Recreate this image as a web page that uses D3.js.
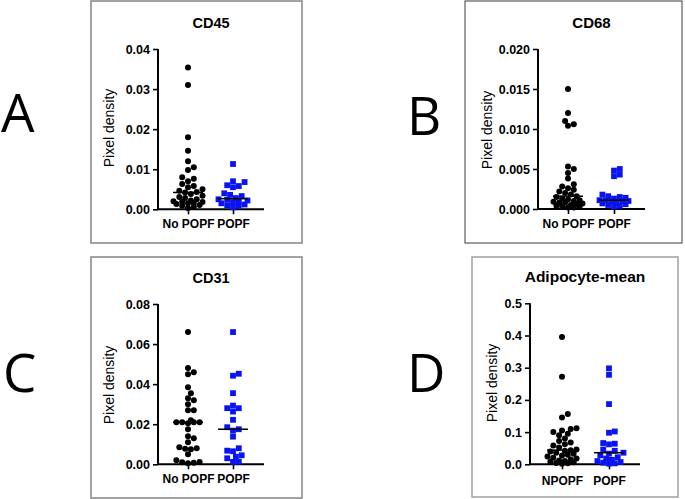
<!DOCTYPE html>
<html><head><meta charset="utf-8">
<script src="https://cdn.jsdelivr.net/npm/d3@7"></script>
<style>html,body{margin:0;padding:0;background:#fff}svg{display:block}</style>
</head><body>
<svg id="c" width="685" height="499"></svg>
<script>
// ---- data ----
const panelLetters = ["A", "B", "C", "D"];
const titles = ["CD45", "CD68", "CD31", "Adipocyte-mean"];
const categoriesA = ["No POPF", "POPF"];
const categoriesB = ["No POPF", "POPF"];
const categoriesC = ["No POPF", "POPF"];
const categoriesD = ["NPOPF", "POPF"];
const yTicksA = [0, 0.01, 0.02, 0.03, 0.04];
const yTicksB = [0, 0.005, 0.010, 0.015, 0.020];
const yTicksC = [0, 0.02, 0.04, 0.06, 0.08];
const yTicksD = [0, 0.1, 0.2, 0.3, 0.4, 0.5];
const cd45NoPopf = [0.0354,0.0310,0.0180,0.0146,0.0120,0.0105,0.0098,0.0080,0.0076,0.0070,0.0063,0.0058,0.0055,0.0050,0.0046,0.0043,0.0042,0.0038,0.0034,0.0031,0.0028,0.0025,0.0022,0.0020,0.0019,0.0018,0.0016,0.0015,0.0013,0.0011,0.0009,0.0006,0.0003];
const cd45Popf = [0.0113,0.0070,0.0068,0.0060,0.0058,0.0055,0.0040,0.0036,0.0033,0.0028,0.0025,0.0024,0.0022,0.0020,0.0018,0.0015,0.0012,0.0010,0.0008,0.0005];
const cd68NoPopf = [0.0150,0.0120,0.0110,0.0106,0.0104,0.0053,0.0050,0.0045,0.0038,0.0031,0.0028,0.0026,0.0024,0.0022,0.0020,0.0018,0.0016,0.0015,0.0013,0.0012,0.0011,0.0010,0.0009,0.0008,0.0008,0.0007,0.0006,0.0005,0.0004,0.0003,0.0003,0.0002,0.0002];
const cd68Popf = [0.0050,0.0048,0.0043,0.0041,0.0018,0.0016,0.0015,0.0014,0.0013,0.0011,0.0011,0.0010,0.0010,0.0009,0.0008,0.0007,0.0006,0.0005,0.0004,0.0003];
const cd31NoPopf = [0.066,0.048,0.046,0.045,0.0385,0.0355,0.033,0.032,0.030,0.027,0.027,0.022,0.021,0.021,0.021,0.021,0.0205,0.0175,0.014,0.013,0.011,0.0085,0.008,0.0078,0.0075,0.005,0.002,0.0012,0.001,0.0008,0.0005];
const cd31Popf = [0.066,0.0452,0.0442,0.0355,0.0293,0.028,0.028,0.0263,0.0222,0.0185,0.0175,0.0168,0.0138,0.008,0.0068,0.0065,0.0045,0.0038,0.003,0.0013,0.0012];
const adipoNoPopf = [0.395,0.272,0.156,0.145,0.112,0.110,0.105,0.100,0.095,0.090,0.080,0.072,0.068,0.062,0.058,0.052,0.046,0.044,0.042,0.040,0.036,0.033,0.030,0.027,0.024,0.020,0.018,0.015,0.012,0.010,0.008,0.006,0.004,0.003,0.002];
const adipoPopf = [0.298,0.278,0.187,0.102,0.098,0.066,0.064,0.062,0.046,0.042,0.036,0.033,0.028,0.022,0.018,0.014,0.010,0.007,0.005,0.003,0.002];

// ---- layout ----
const panels = [
  {letter:panelLetters[0], title:titles[0], tfs:14.5, cats:categoriesA, ticks:yTicksA, fmt:d3.format(".2f"), series:[cd45NoPopf, cd45Popf],
   frame:[91,1,302,243], frameColor:"#858585", frameW:1.5, lx:1, lb:132,
   ax:158, ay0:209.3, ay1:49, axEnd:264, cx:[188,233], ty:28, ylx:109, yly:128, xly:228},
  {letter:panelLetters[1], title:titles[1], tfs:15, cats:categoriesB, ticks:yTicksB, fmt:d3.format(".3f"), series:[cd68NoPopf, cd68Popf],
   frame:[465,1,682,243], frameColor:"#3a3a3a", frameW:1, lx:407, lb:135,
   ax:538, ay0:209, ay1:49, axEnd:645, cx:[568,614], ty:28, ylx:487, yly:130, xly:228},
  {letter:panelLetters[2], title:titles[2], tfs:14.5, cats:categoriesC, ticks:yTicksC, fmt:d3.format(".2f"), series:[cd31NoPopf, cd31Popf],
   frame:[91,257,302,498], frameColor:"#858585", frameW:1.5, lx:3, lb:392,
   ax:158, ay0:464.3, ay1:304, axEnd:264, cx:[188,233], ty:283, ylx:109, yly:385, xly:483},
  {letter:panelLetters[3], title:titles[3], tfs:15.5, cats:categoriesD, ticks:yTicksD, fmt:d3.format(".1f"), series:[adipoNoPopf, adipoPopf],
   frame:[472,257,678,497], frameColor:"#a0a0a0", frameW:1.5, lx:407, lb:392,
   ax:530, ay0:464.3, ay1:303.3, axEnd:640, cx:[562,609], ty:282, ylx:492, yly:383, xly:485}
];

const svg = d3.select("#c");
const font = "'Liberation Sans', Arial, sans-serif";

function beeswarm(vals, y, diam, maxOff) {
  const sorted = vals.map((v,i)=>({v,i})).sort((a,b)=>a.v-b.v);
  const placed = [];
  sorted.forEach(p => {
    const py = y(p.v);
    let best = null, bestScore = -1;
    const cands = [0];
    for (let k=1; k*diam*0.5<=maxOff; k++) { cands.push(k*diam*0.5, -k*diam*0.5); }
    for (const off of cands) {
      let minD = Infinity;
      for (const q of placed) {
        const d = Math.hypot(q.x-off, q.y-py);
        if (d < minD) minD = d;
      }
      if (minD >= diam*0.95) { best = off; break; }
      if (minD > bestScore) { bestScore = minD; best = off; }
    }
    placed.push({x:best, y:py, v:p.v});
  });
  return placed;
}

panels.forEach(p => {
  const g = svg.append("g");
  const [fx0,fy0,fx1,fy1] = p.frame;
  g.append("rect").attr("x",fx0).attr("y",fy0).attr("width",fx1-fx0).attr("height",fy1-fy0)
    .attr("fill","none").attr("stroke",p.frameColor).attr("stroke-width",p.frameW);
  svg.append("text").attr("x",p.lx).attr("y",p.lb).text(p.letter)
    .attr("font-family","'Open Sans', 'Liberation Sans', sans-serif").attr("font-size",53).attr("fill","#000");

  const y = d3.scaleLinear().domain([0, d3.max(p.ticks)]).range([p.ay0, p.ay1]);
  const x = d3.scaleOrdinal().domain(p.cats).range(p.cx);

  // title
  g.append("text").attr("x", (p.ax+p.axEnd)/2).attr("y", p.ty).attr("text-anchor","middle")
    .attr("font-family",font).attr("font-weight","bold").attr("font-size",p.tfs).text(p.title);

  // y axis
  const yAxis = d3.axisLeft(y).tickValues(p.ticks).tickFormat(p.fmt).tickSize(5).tickPadding(3);
  const ya = g.append("g").attr("transform",`translate(${p.ax},0)`).call(yAxis);
  ya.select(".domain").attr("stroke","#000").attr("stroke-width",2).attr("d",`M0,${p.ay0}V${p.ay1}`);
  ya.selectAll(".tick line").attr("stroke","#000").attr("stroke-width",1.6);
  ya.selectAll(".tick text").attr("font-family",font).attr("font-weight","bold").attr("font-size",12.5).attr("fill","#000");

  // x axis
  const xAxis = d3.axisBottom(x).tickSize(5).tickPadding(4);
  const xa = g.append("g").attr("transform",`translate(0,${p.ay0})`).call(xAxis);
  xa.select(".domain").attr("stroke","#000").attr("stroke-width",2).attr("d",`M${p.ax},0H${p.axEnd}`);
  xa.selectAll(".tick line").attr("stroke","#000").attr("stroke-width",1.6);
  xa.selectAll(".tick text").attr("font-family",font).attr("font-weight","bold").attr("font-size",12).attr("fill","#000")
    .attr("y", p.xly - p.ay0).attr("dy", 0);

  // y label
  g.append("text").attr("transform",`translate(${p.ylx},${p.yly}) rotate(-90)`).attr("text-anchor","middle")
    .attr("dy","0.35em").attr("font-family",font).attr("font-size",14).text("Pixel density");

  // points
  p.series.forEach((vals, si) => {
    const cx = x(p.cats[si]);
    const pts = beeswarm(vals, y, 5.8, 16);
    if (si === 0) {
      g.selectAll(null).data(pts).join("circle").attr("cx",d=>cx+d.x).attr("cy",d=>d.y).attr("r",3).attr("fill","#000");
    } else {
      g.selectAll(null).data(pts).join("rect").attr("x",d=>cx+d.x-2.9).attr("y",d=>d.y-2.9)
        .attr("width",5.8).attr("height",5.8).attr("fill","#0a14f0");
    }
    const med = d3.median(vals);
    g.append("line").attr("x1",cx-15).attr("x2",cx+15).attr("y1",y(med)).attr("y2",y(med))
      .attr("stroke","#000").attr("stroke-width",1.5);
  });
});
</script>
</body></html>
